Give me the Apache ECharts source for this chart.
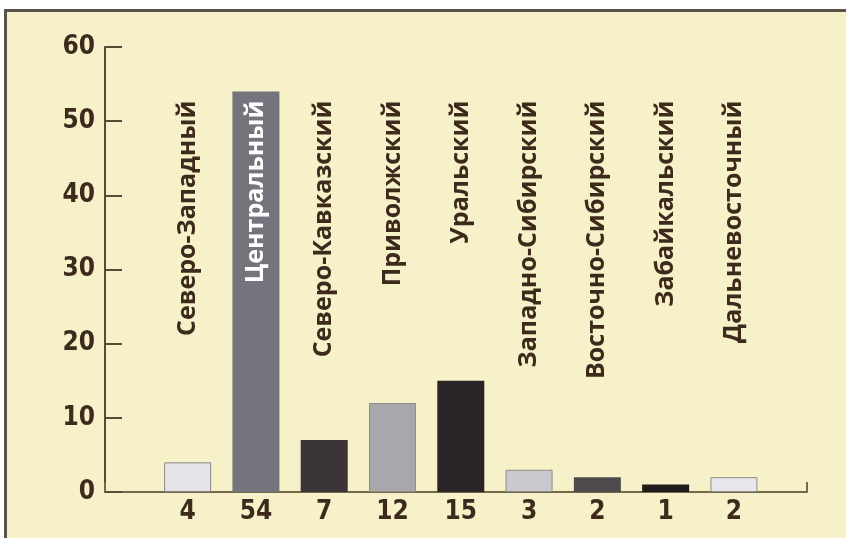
<!DOCTYPE html>
<html>
<head>
<meta charset="utf-8">
<script src="https://cdn.jsdelivr.net/npm/echarts@6/dist/echarts.min.js"></script>
<style>
  html, body { margin: 0; padding: 0; background: #ffffff; width: 846px; height: 538px; overflow: hidden; }
  #frame { position: absolute; left: 4px; top: 9px; right: 0; bottom: 0;
           border-top: 3px solid #5b524a; border-left: 3px solid #5b524a;
           background: #f6f1c8; }
  #chart { position: absolute; left: 0; top: 0; width: 846px; height: 538px; }
</style>
</head>
<body>
<div id="frame"></div>
<div id="chart"></div>
<script>
// Data
const categories = ['Северо-Западный', 'Центральный', 'Северо-Кавказский', 'Приволжский', 'Уральский',
                    'Западно-Сибирский', 'Восточно-Сибирский', 'Забайкальский', 'Дальневосточный'];
const values = [4, 54, 7, 12, 15, 3, 2, 1, 2];
const yTicks = [0, 10, 20, 30, 40, 50, 60];

// Styles
const barColors = ['#e4e4ea', '#75737b', '#3b3537', '#a7a7ac', '#2b2426', '#c9c9cf', '#4e4a4e', '#201a1a', '#e6e6ec'];
const barBorders = ['#8a8680', null, null, '#8f8c82', null, '#8f8c82', null, null, '#8f8c82'];
const labelColors = ['#3d2a1c', '#ffffff', '#3d2a1c', '#3d2a1c', '#3d2a1c', '#3d2a1c', '#3d2a1c', '#3d2a1c', '#3d2a1c'];
const textColor = '#3d2a1c';
const numFont = "'Liberation Sans Narrow', 'DejaVu Sans Condensed', 'Liberation Sans', sans-serif";
const nameFont = "'Open Sans', 'Noto Sans', sans-serif";
const X_MIN = -1.21, X_MAX = 9.07;   // axis extent in category units
const LABEL_TOP = 52.8;              // where the rotated names end (value units)

const chart = echarts.init(document.getElementById('chart'), null, { renderer: 'canvas' });

const barData = values.map((v, i) => ({
  value: [i, v],
  itemStyle: {
    color: barColors[i],
    borderColor: barBorders[i] || barColors[i],
    borderWidth: barBorders[i] ? 1 : 0
  }
}));

const nameData = categories.map((c, i) => ({
  value: [i, LABEL_TOP],
  label: { color: labelColors[i] }
}));

chart.setOption({
  backgroundColor: 'transparent',
  animation: false,
  grid: { left: 105, right: 39, top: 47, bottom: 46, containLabel: false },
  xAxis: {
    type: 'value',
    min: X_MIN,
    max: X_MAX,
    interval: X_MAX - X_MIN,
    axisLine: { show: true, onZero: false, lineStyle: { color: '#75664c', width: 2 } },
    axisTick: { show: true, inside: true, length: 10, lineStyle: { color: '#75664c', width: 2 } },
    axisLabel: { show: false },
    splitLine: { show: false }
  },
  yAxis: {
    type: 'value',
    min: yTicks[0],
    max: yTicks[yTicks.length - 1],
    interval: yTicks[1] - yTicks[0],
    axisLine: { show: true, onZero: false, lineStyle: { color: '#5a4838', width: 2 } },
    axisTick: { show: true, inside: true, length: 17, lineStyle: { color: '#5a4838', width: 2 } },
    axisLabel: { show: true, margin: 10, color: textColor, fontFamily: numFont, fontWeight: 'bold', fontSize: 26 },
    splitLine: { show: false }
  },
  series: [
    {
      type: 'bar',
      data: barData,
      barWidth: 47,
      label: {
        show: true,
        position: 'bottom',
        distance: 7,
        formatter: p => String(p.value[1]),
        color: textColor,
        fontFamily: numFont,
        fontWeight: 'bold',
        fontSize: 26
      },
      z: 2
    },
    {
      type: 'scatter',
      data: nameData,
      symbolSize: 0,
      silent: true,
      itemStyle: { opacity: 1 },
      label: {
        show: true,
        position: 'inside',
        rotate: 90,
        align: 'right',
        verticalAlign: 'middle',
        opacity: 1,
        formatter: p => categories[p.dataIndex],
        fontFamily: nameFont,
        fontWeight: 'bold',
        fontSize: 25
      },
      z: 5
    }
  ]
});
</script>
</body>
</html>
